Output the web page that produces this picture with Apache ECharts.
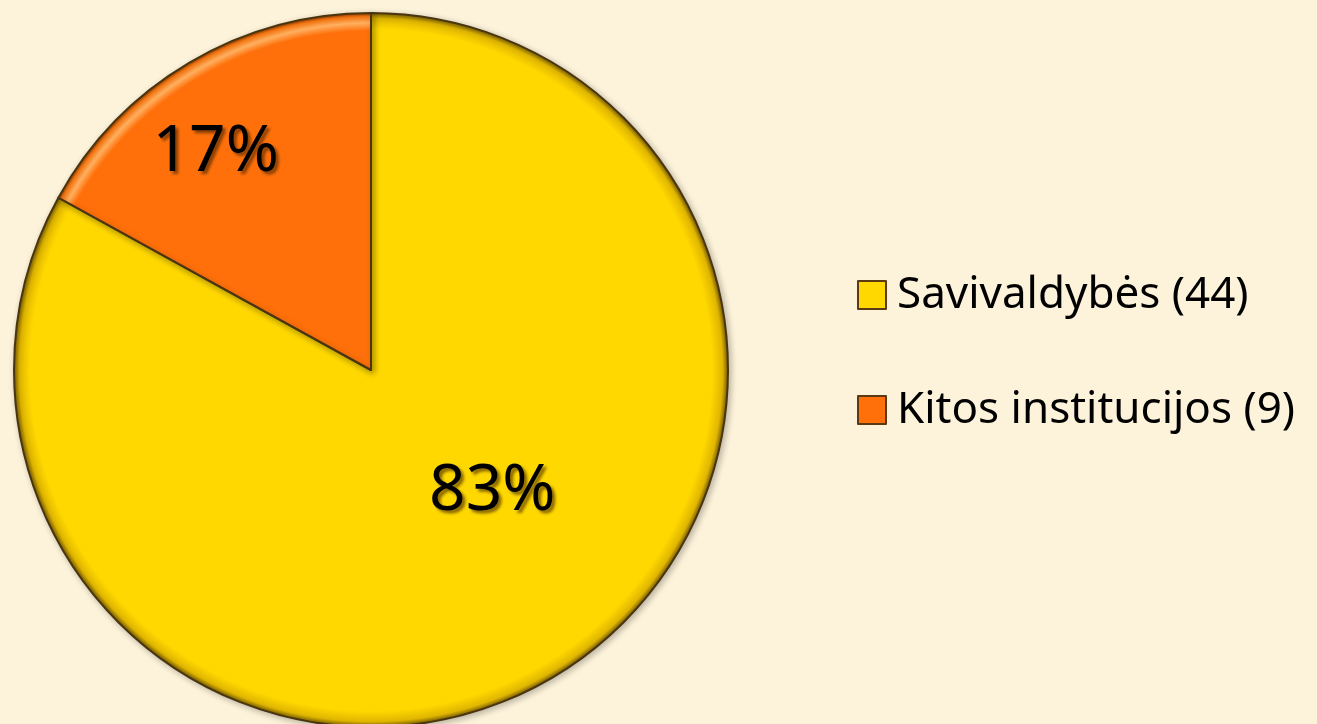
<!DOCTYPE html>
<html>
<head>
<meta charset="utf-8">
<script src="https://cdn.jsdelivr.net/npm/echarts@6/dist/echarts.min.js"></script>
<style>
html,body{margin:0;padding:0;background:#FDF3DA;}
#chart{width:1317px;height:724px;}
</style>
</head>
<body>
<div id="chart"></div>
<script>
const categories = ['Savivaldybės', 'Kitos institucijos'];
const values = [44, 9];
const colors = ['#FFD800', '#FF700A'];
const labelShift = [[29, -35], [-63, -61]];

const CX = 371, CY = 370, R = 357;
const rims = [
  [
    { offset: 0, color: '#FFD800' },
    { offset: 0.955, color: '#FFD800' },
    { offset: 0.985, color: '#E0B600' },
    { offset: 1, color: '#7A5E00' }
  ],
  [
    { offset: 0, color: '#FF700A' },
    { offset: 0.95, color: '#FF700A' },
    { offset: 0.972, color: '#FFB060' },
    { offset: 0.99, color: '#FF7A10' },
    { offset: 1, color: '#8A3A00' }
  ]
];
function sliceFill(i) {
  return { type: 'radial', x: CX, y: CY, r: R, global: true, colorStops: rims[i] };
}

const chart = echarts.init(document.getElementById('chart'));
chart.setOption({
  backgroundColor: '#FDF3DA',
  animation: false,
  legend: {
    orient: 'vertical',
    left: 852,
    top: 268,
    itemWidth: 28,
    itemHeight: 28,
    itemGap: 71,
    icon: 'rect',
    data: categories.map((c, i) => ({
      name: c,
      itemStyle: { color: colors[i], borderColor: '#5A3A12', borderWidth: 2 }
    })),
    formatter: function (name) {
      const i = categories.indexOf(name);
      return name + ' (' + values[i] + ')';
    },
    textStyle: { fontFamily: 'Noto Sans', fontSize: 44, color: '#000', padding: [0, 0, 0, 6] }
  },
  series: [{
    type: 'pie',
    center: [CX, CY],
    radius: R,
    startAngle: 90,
    clockwise: true,
    percentPrecision: 0,
    data: categories.map((c, i) => ({
      name: c, value: values[i],
      itemStyle: { color: sliceFill(i) }
    })),
    itemStyle: {
      borderColor: '#4A3510',
      borderWidth: 2,
      shadowColor: 'rgba(0,0,0,0.25)',
      shadowBlur: 6,
      shadowOffsetX: 2,
      shadowOffsetY: 2
    },
    label: {
      show: true,
      position: 'inside',
      formatter: '{d}%',
      fontFamily: 'Noto Sans',
      fontSize: 64,
      color: '#000',
      textShadowColor: 'rgba(60,30,0,0.6)',
      textShadowBlur: 3,
      textShadowOffsetX: 3,
      textShadowOffsetY: 3
    },
    labelLine: { show: false },
    labelLayout: function (params) {
      const s = labelShift[params.dataIndex];
      return { dx: s[0], dy: s[1] };
    },
    emphasis: { disabled: true }
  }]
});
</script>
</body>
</html>
